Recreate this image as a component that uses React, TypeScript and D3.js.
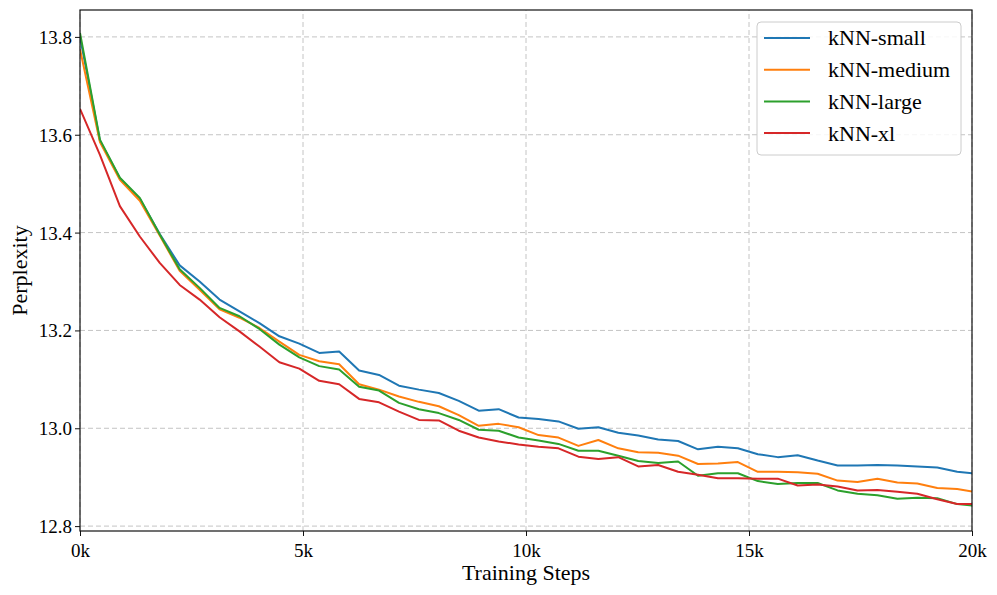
import { useEffect, useRef } from "react"
import * as d3 from "d3"

const steps = [
  0, 447, 894, 1341, 1788, 2235, 2682, 3129, 3576, 4023, 4470, 4917, 5364, 5811, 6258, 6705,
  7152, 7599, 8046, 8493, 8940, 9387, 9834, 10281, 10728, 11175, 11622, 12069, 12516, 12963,
  13410, 13857, 14304, 14751, 15198, 15645, 16092, 16539, 16986, 17433, 17880, 18327, 18774,
  19221, 19668, 20115,
]

const knnSmall = [
  13.8, 13.588, 13.511, 13.469, 13.397, 13.333, 13.3, 13.263, 13.239, 13.215, 13.188, 13.173,
  13.154, 13.157, 13.118, 13.109, 13.087, 13.079, 13.072, 13.056, 13.036, 13.039, 13.022, 13.019,
  13.014, 12.999, 13.002, 12.991, 12.985, 12.977, 12.974, 12.957, 12.962, 12.959, 12.947, 12.941,
  12.945, 12.934, 12.924, 12.924, 12.925, 12.924, 12.922, 12.92, 12.911, 12.907,
]

const knnMedium = [
  13.775, 13.585, 13.508, 13.465, 13.394, 13.322, 13.283, 13.243, 13.226, 13.205, 13.177, 13.15,
  13.137, 13.131, 13.09, 13.079, 13.065, 13.054, 13.045, 13.027, 13.005, 13.009, 13.002, 12.986,
  12.981, 12.964, 12.976, 12.959, 12.951, 12.95, 12.944, 12.927, 12.928, 12.931, 12.911, 12.911,
  12.91, 12.907, 12.893, 12.89, 12.897, 12.889, 12.887, 12.878, 12.876, 12.869,
]

const knnLarge = [
  13.808, 13.59, 13.512, 13.471, 13.396, 13.325, 13.287, 13.246, 13.229, 13.203, 13.171, 13.145,
  13.127, 13.12, 13.085, 13.077, 13.052, 13.039, 13.031, 13.017, 12.997, 12.995, 12.981, 12.975,
  12.968, 12.954, 12.954, 12.944, 12.933, 12.929, 12.932, 12.903, 12.908, 12.908, 12.892, 12.886,
  12.888, 12.888, 12.873, 12.866, 12.863, 12.856, 12.858, 12.857, 12.845, 12.841,
]

const knnXl = [
  13.653, 13.559, 13.454, 13.392, 13.338, 13.293, 13.263, 13.227, 13.198, 13.167, 13.135, 13.122,
  13.097, 13.09, 13.06, 13.053, 13.034, 13.017, 13.016, 12.995, 12.981, 12.973, 12.967, 12.962,
  12.959, 12.942, 12.937, 12.941, 12.922, 12.925, 12.911, 12.905, 12.898, 12.898, 12.897, 12.897,
  12.883, 12.885, 12.881, 12.873, 12.874, 12.87, 12.866, 12.855, 12.845, 12.845,
]

const seriesNames = ["kNN-small", "kNN-medium", "kNN-large", "kNN-xl"]
const seriesValues = [knnSmall, knnMedium, knnLarge, knnXl]
const colors = ["#1f77b4", "#ff7f0e", "#2ca02c", "#d62728"]

const xTicks = [0, 5000, 10000, 15000, 20000]
const yTicks = [12.8, 13.0, 13.2, 13.4, 13.6, 13.8]

const WIDTH = 997
const HEIGHT = 595
const FONT = "'Liberation Serif', 'Times New Roman', serif"

export default function App() {
  const svgRef = useRef<SVGSVGElement>(null)

  useEffect(() => {
    if (!svgRef.current) return
    const svg = d3.select(svgRef.current)
    svg.selectAll("*").remove()

    const margin = { top: 10, right: 25, bottom: 64, left: 80 }
    const x = d3.scaleLinear().domain([0, 20000]).range([margin.left, WIDTH - margin.right])
    const y = d3.scaleLinear().domain([12.79, 13.855]).range([HEIGHT - margin.bottom, margin.top])
    const [x0, x1] = x.range()
    const [y0, y1] = y.range()

    svg.append("defs")
      .append("clipPath")
      .attr("id", "plot-clip")
      .append("rect")
      .attr("x", x0)
      .attr("y", y1)
      .attr("width", x1 - x0)
      .attr("height", y0 - y1)

    // grid
    const grid = svg.append("g").attr("stroke", "#c4c4c4").attr("stroke-width", 1).attr("stroke-dasharray", "5,3")
    xTicks.forEach((t) => {
      grid.append("line").attr("x1", x(t)).attr("x2", x(t)).attr("y1", y0).attr("y2", y1)
    })
    yTicks.forEach((t) => {
      grid.append("line").attr("x1", x0).attr("x2", x1).attr("y1", y(t)).attr("y2", y(t))
    })

    // lines
    const line = d3
      .line<number>()
      .x((_, i) => x(steps[i]))
      .y((d) => y(d))

    const lines = svg.append("g").attr("clip-path", "url(#plot-clip)")
    seriesValues.forEach((vals, k) => {
      lines
        .append("path")
        .attr("d", line(vals))
        .attr("fill", "none")
        .attr("stroke", colors[k])
        .attr("stroke-width", 2)
        .attr("stroke-linejoin", "round")
    })

    // frame
    svg.append("rect")
      .attr("x", x0)
      .attr("y", y1)
      .attr("width", x1 - x0)
      .attr("height", y0 - y1)
      .attr("fill", "none")
      .attr("stroke", "#111")
      .attr("stroke-width", 1.2)

    // axes
    const xAxis = svg
      .append("g")
      .attr("transform", `translate(0,${y0})`)
      .call(
        d3
          .axisBottom(x)
          .tickValues(xTicks)
          .tickSize(5)
          .tickFormat((d) => `${(d as number) / 1000}k`),
      )
    const yAxis = svg
      .append("g")
      .attr("transform", `translate(${x0},0)`)
      .call(
        d3
          .axisLeft(y)
          .tickValues(yTicks)
          .tickSize(5)
          .tickFormat((d) => d3.format(".1f")(d as number)),
      )
    ;[xAxis, yAxis].forEach((a) => {
      a.select(".domain").remove()
      a.selectAll("line").attr("stroke", "#111").attr("stroke-width", 1)
      a.selectAll("text").attr("fill", "#000").style("font-family", FONT).style("font-size", "19px")
    })
    xAxis.selectAll("text").attr("dy", "0.95em")
    yAxis.selectAll("text").attr("x", -8).attr("dy", "0.34em")

    // axis labels
    svg.append("text")
      .attr("x", (x0 + x1) / 2)
      .attr("y", 580)
      .attr("text-anchor", "middle")
      .style("font-family", FONT)
      .style("font-size", "22px")
      .text("Training Steps")

    svg.append("text")
      .attr("transform", `translate(27,${(y0 + y1) / 2}) rotate(-90)`)
      .attr("text-anchor", "middle")
      .style("font-family", FONT)
      .style("font-size", "22px")
      .text("Perplexity")

    // legend
    const legend = svg.append("g").attr("transform", "translate(757,22)")
    legend
      .append("rect")
      .attr("width", 204)
      .attr("height", 133)
      .attr("rx", 4)
      .attr("fill", "rgba(255,255,255,0.85)")
      .attr("stroke", "#cccccc")
      .attr("stroke-width", 1)
    seriesNames.forEach((name, k) => {
      const ly = 16 + k * 31.7
      legend
        .append("line")
        .attr("x1", 7)
        .attr("x2", 53)
        .attr("y1", ly)
        .attr("y2", ly)
        .attr("stroke", colors[k])
        .attr("stroke-width", 2)
      legend
        .append("text")
        .attr("x", 71)
        .attr("y", ly)
        .attr("dy", "0.34em")
        .style("font-family", FONT)
        .style("font-size", "22px")
        .text(name)
    })
  }, [])

  return (
    <svg
      ref={svgRef}
      width={WIDTH}
      height={HEIGHT}
      style={{ position: "absolute", left: 0, top: 0, background: "#fff" }}
    />
  )
}
